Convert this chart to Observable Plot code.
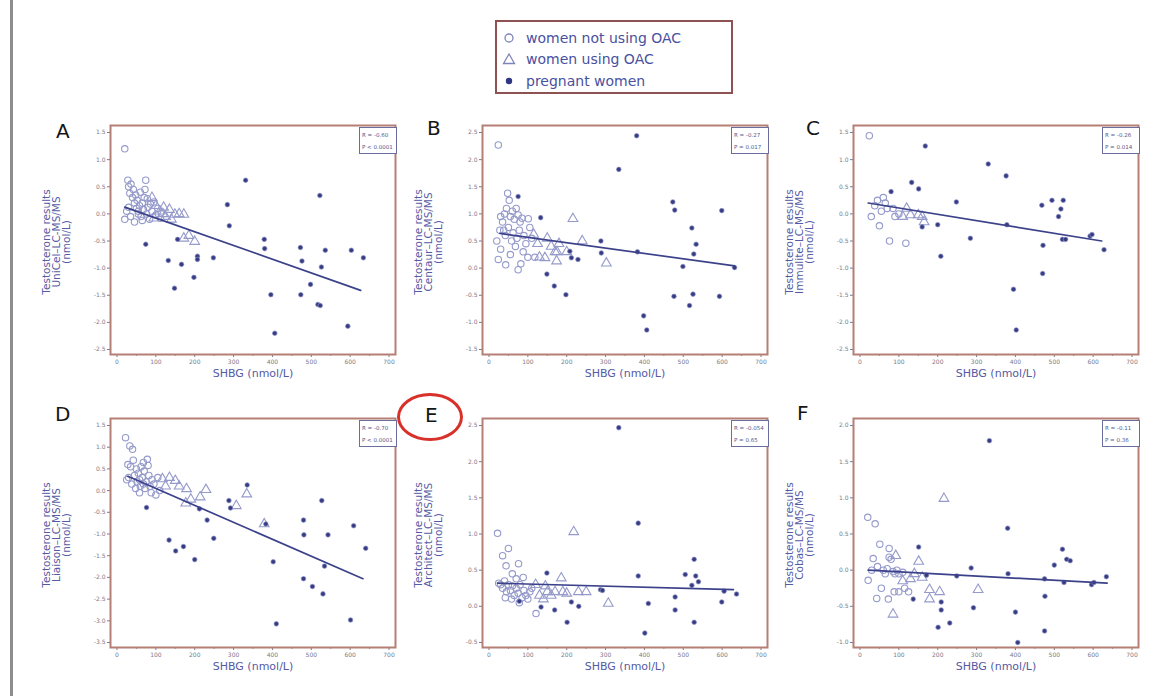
<!DOCTYPE html>
<html><head><meta charset="utf-8">
<script src="https://cdn.jsdelivr.net/npm/d3@7"></script>
<script src="https://cdn.jsdelivr.net/npm/@observablehq/plot@0.6"></script>
<style>
body{margin:0;background:#fff;}
#wrap{position:relative;width:1170px;height:696px;overflow:hidden;background:#fff;font-family:"DejaVu Sans",sans-serif;}
.abs{position:absolute;}
.letter{position:absolute;font-size:20px;line-height:20px;color:#151515;}
.stats{position:absolute;width:38px;height:27px;box-sizing:border-box;border:1px solid #6a6e9e;background:#fff;font-size:5.5px;line-height:11px;color:#555a8e;padding-left:2px;padding-top:1px;white-space:nowrap;}
.panel{position:absolute;}
#legend{position:absolute;left:495px;top:20px;width:238px;height:74px;box-sizing:border-box;border:2px solid #8e5252;}
.lrow{position:absolute;left:0;height:20px;display:flex;align-items:center;font-size:14px;color:#4a50a0;}
.lrow svg{margin-left:5px;margin-right:10px;}
</style></head><body><div id="wrap"></div>
<script>
// ---------------- data ----------------
const panelIds = ["A","B","C","D","E","F"];
const methods = ["UniCel","Centaur","Immulite","Liaison","Architect","Cobas"];
const xLabel = "SHBG (nmol/L)";
const xMajor = [0,100,200,300,400,500,600,700];
const xMinor = [50,150,250,350,450,550,650];
const legendLabels = ["women not using OAC","women using OAC","pregnant women"];

const yTicksA = [1.5,1.0,0.5,0.0,-0.5,-1.0,-1.5,-2.0,-2.5];
const yTicksB = [2.5,2.0,1.5,1.0,0.5,0.0,-0.5,-1.0,-1.5];
const yTicksC = [1.5,1.0,0.5,0.0,-0.5,-1.0,-1.5,-2.0,-2.5];
const yTicksD = [1.5,1.0,0.5,0.0,-0.5,-1.0,-1.5,-2.0,-2.5,-3.0,-3.5];
const yTicksE = [2.5,2.0,1.5,1.0,0.5,0.0,-0.5];
const yTicksF = [2.0,1.5,1.0,0.5,0.0,-0.5,-1.0];

const statsR = ["R = -0.60","R = -0.27","R = -0.26","R = -0.70","R = -0.054","R = -0.11"];
const statsP = ["P < 0.0001","P = 0.017","P = 0.014","P < 0.0001","P = 0.65","P = 0.36"];

// women not using OAC (circles)
const circA = [[20,1.2],[28,0.62],[30,0.5],[33,0.38],[36,0.55],[40,0.3],[42,0.45],[45,0.2],[48,0.35],[50,0.1],[52,0.25],[55,0.05],[58,0.15],[60,0.4],[62,-0.05],[65,0.2],[68,0.08],[70,0.3],[74,0.62],[76,0.0],[78,0.28],[80,0.12],[84,-0.1],[86,0.18],[90,0.05],[95,0.22],[100,-0.02],[105,0.1],[112,-0.08],[20,-0.1],[25,0.05],[30,0.12],[35,-0.05],[45,-0.15],[55,0.0],[65,-0.12],[72,0.45]];
const circB = [[24,2.27],[48,1.38],[52,1.25],[45,1.1],[30,0.95],[35,0.85],[40,1.0],[55,0.95],[60,1.05],[65,0.9],[70,1.1],[75,0.98],[80,0.85],[85,0.92],[38,0.7],[42,0.6],[50,0.75],[58,0.5],[62,0.65],[68,0.4],[72,0.55],[78,0.7],[88,0.3],[95,0.45],[100,0.2],[101,0.91],[24,0.16],[30,0.35],[43,0.06],[55,0.25],[75,-0.03],[82,0.08],[90,0.6],[105,0.75],[110,0.55],[118,0.2],[20,0.5],[28,0.7]];
const circC = [[24,1.44],[29,-0.05],[50,-0.22],[55,0.05],[60,0.3],[65,0.2],[70,0.1],[76,-0.5],[45,0.25],[38,0.15],[85,0.1],[90,-0.05],[118,-0.54],[100,0.0]];
const circD = [[22,1.22],[33,1.03],[40,0.95],[28,0.6],[35,0.55],[42,0.7],[45,0.35],[50,0.5],[52,0.2],[55,0.4],[58,0.25],[60,0.1],[62,0.55],[65,0.3],[68,0.15],[70,0.45],[72,0.05],[75,0.2],[78,0.72],[80,0.58],[82,0.35],[85,0.1],[88,-0.05],[90,0.25],[95,0.15],[100,-0.1],[105,0.3],[110,0.0],[30,0.3],[38,0.15],[48,0.05],[58,-0.05],[25,0.25],[68,0.65]];
const circE = [[22,1.01],[35,0.7],[50,0.8],[44,0.56],[76,0.59],[60,0.45],[30,0.3],[35,0.25],[40,0.35],[45,0.2],[50,0.3],[55,0.22],[60,0.28],[65,0.15],[70,0.25],[75,0.18],[80,0.3],[85,0.12],[90,0.22],[95,0.15],[100,0.1],[105,0.2],[110,0.25],[78,0.05],[121,-0.1],[25,0.32],[70,0.38],[88,0.4],[58,0.1],[42,0.12]];
const circF = [[20,0.73],[39,0.64],[51,0.36],[34,0.16],[21,-0.14],[43,-0.39],[75,0.3],[75,0.18],[80,0.15],[73,-0.4],[60,0.0],[65,-0.05],[70,0.02],[85,-0.02],[90,-0.05],[95,0.0],[100,-0.05],[110,-0.03],[115,-0.25],[125,-0.3],[88,-0.3],[55,-0.25],[45,0.05],[30,0.0],[100,-0.3]];

// women using OAC (triangles)
const triA = [[90,0.3],[100,0.15],[110,0.05],[118,0.0],[125,-0.05],[135,0.08],[149,-0.01],[160,0.0],[172,-0.01],[172,-0.45],[185,-0.4],[200,-0.51],[140,-0.1],[95,-0.08],[120,0.12]];
const triB = [[115,0.62],[125,0.45],[130,0.2],[144,0.19],[150,0.55],[160,0.4],[170,0.3],[174,0.13],[180,0.45],[216,0.91],[200,0.3],[240,0.5],[302,0.09],[175,0.3]];
const triC = [[110,-0.05],[130,-0.02],[150,-0.02],[165,-0.15],[120,0.1],[160,-0.05]];
const triD = [[117,0.27],[135,0.3],[150,0.23],[160,0.1],[179,0.04],[177,-0.29],[214,-0.15],[229,0.02],[190,-0.2],[307,-0.35],[334,-0.08],[379,-0.77],[125,0.1]];
const triE = [[130,0.15],[140,0.1],[150,0.2],[160,0.15],[170,0.2],[186,0.39],[190,0.2],[200,0.18],[218,1.03],[230,0.2],[250,0.2],[307,0.04],[120,0.3],[145,0.28]];
const triF = [[85,-0.61],[151,0.12],[179,-0.27],[179,-0.4],[205,-0.3],[216,0.99],[304,-0.27],[140,-0.05],[160,-0.1],[130,-0.12],[92,0.2],[110,-0.15]];

// pregnant women (filled dots)
const pregA = [[74,-0.56],[132,-0.86],[148,-1.37],[156,-0.47],[166,-0.93],[198,-1.17],[207,-0.78],[207,-0.84],[248,-0.81],[284,0.17],[289,-0.22],[331,0.62],[379,-0.47],[380,-0.64],[396,-1.49],[406,-2.2],[472,-0.62],[476,-0.87],[473,-1.49],[498,-1.3],[517,-1.67],[523,-1.69],[522,0.34],[526,-0.98],[536,-0.67],[594,-2.07],[603,-0.67],[634,-0.81]];
const pregB = [[75,1.32],[133,0.93],[149,-0.11],[168,-0.33],[198,-0.49],[208,0.31],[212,0.19],[229,0.16],[288,0.5],[289,0.28],[334,1.82],[380,2.44],[382,0.3],[398,-0.88],[406,-1.14],[473,1.22],[478,1.07],[476,-0.52],[499,0.03],[516,-0.69],[522,0.74],[525,-0.48],[527,0.26],[533,0.44],[593,-0.52],[599,1.06],[632,0.01]];
const pregC = [[80,0.41],[133,0.58],[151,0.46],[168,1.25],[160,-0.24],[200,-0.2],[208,-0.78],[248,0.22],[284,-0.45],[330,0.92],[376,0.7],[378,-0.2],[395,-1.39],[402,-2.14],[468,0.16],[471,-0.58],[470,-1.1],[494,0.25],[511,-0.05],[517,0.09],[523,0.25],[521,-0.47],[529,-0.47],[592,-0.41],[597,-0.38],[628,-0.66]];
const pregD = [[76,-0.39],[134,-1.14],[151,-1.39],[171,-1.29],[200,-1.59],[212,-0.42],[232,-0.68],[249,-1.1],[288,-0.23],[292,-0.4],[335,0.13],[383,-0.77],[402,-1.64],[410,-3.07],[480,-0.68],[481,-1.02],[480,-2.03],[503,-2.21],[527,-0.23],[530,-2.38],[534,-1.74],[543,-1.02],[601,-2.98],[609,-0.81],[640,-1.33]];
const pregE = [[78,0.07],[134,-0.01],[149,0.46],[169,-0.05],[201,-0.22],[212,0.06],[231,0.0],[287,0.23],[292,0.22],[334,2.47],[384,1.15],[384,0.42],[410,0.04],[401,-0.37],[479,0.13],[479,-0.05],[505,0.44],[522,0.29],[528,0.65],[528,-0.22],[532,0.42],[539,0.34],[599,0.06],[605,0.21],[637,0.17]];
const pregF = [[137,-0.4],[151,0.32],[171,-0.07],[201,-0.79],[209,-0.44],[209,-0.55],[231,-0.73],[249,-0.08],[286,0.03],[292,-0.52],[333,1.79],[380,0.58],[381,-0.05],[400,-0.58],[406,-1.0],[475,-0.12],[476,-0.36],[475,-0.84],[500,0.07],[521,0.29],[525,-0.17],[532,0.15],[541,0.13],[596,-0.2],[602,-0.17],[634,-0.09]];

// regression lines (SHBG, difference) end points
const fitA = [[20,0.125],[627,-1.41]];
const fitB = [[28,0.64],[632,0.04]];
const fitC = [[21,0.2],[622,-0.5]];
const fitD = [[28,0.33],[633,-2.03]];
const fitE = [[22,0.32],[629,0.23]];
const fitF = [[21,0.0],[636,-0.18]];

// ---------------- build ----------------
const panels = [
  {circ: circA, tri: triA, preg: pregA, fit: fitA, yTicks: yTicksA},
  {circ: circB, tri: triB, preg: pregB, fit: fitB, yTicks: yTicksB},
  {circ: circC, tri: triC, preg: pregC, fit: fitC, yTicks: yTicksC},
  {circ: circD, tri: triD, preg: pregD, fit: fitD, yTicks: yTicksD},
  {circ: circE, tri: triE, preg: pregE, fit: fitE, yTicks: yTicksE},
  {circ: circF, tri: triF, preg: pregF, fit: fitF, yTicks: yTicksF}
].map((p, i) => ({...p, id: panelIds[i], method: methods[i], r: statsR[i], p: statsP[i]}));

const wrap = document.getElementById("wrap");
const colLeft = [110, 482, 853];
const rowTop = [125, 418];
const FW = 285, FH = 229, ML = 80, MR = 6, MT = 10, MB = 40;
const letterPos = [[56,121],[427,118],[806,118],[55,404],[425,405],[797,403]];

const womenColor = "#959acb";
const pregColor = "#363c84";
const textBlue = "#555aa4";

panels.forEach((p, i) => {
  const col = i % 3, row = Math.floor(i / 3);
  const fl = colLeft[col], ft = rowTop[row];
  const lo = d3.min(p.yTicks), hi = d3.max(p.yTicks), span = hi - lo;
  const X = d => d[0], Y = d => d[1];
  const chart = Plot.plot({
    width: ML + FW + MR, height: MT + FH + MB,
    marginLeft: ML, marginRight: MR, marginTop: MT, marginBottom: MB,
    style: {background: "transparent", fontFamily: "DejaVu Sans, sans-serif", overflow: "visible"},
    x: {domain: [-16.7, 716.7]},
    y: {domain: [lo - span * 5 / 217, hi + span * 7 / 217]},
    marks: [
      Plot.axisX({ticks: xMinor, tickSize: 2, tickFormat: () => "", color: "#8a8cb0", label: null}),
      Plot.axisX({ticks: xMajor, tickSize: 3, tickPadding: 2, fontSize: 6, color: "#7a7a8a", label: null, tickFormat: d => String(d)}),
      Plot.axisY({ticks: p.yTicks, tickSize: 3, tickPadding: 2, fontSize: 6, color: "#7a7a8a", label: null, tickFormat: d => d.toFixed(1)}),
      Plot.frame({stroke: "#b57f75", strokeWidth: 2}),
      Plot.dot(p.circ, {x: X, y: Y, r: 3.2, stroke: womenColor, strokeWidth: 1.1, fill: "none"}),
      Plot.dot(p.tri, {x: X, y: Y, r: 3.6, symbol: "triangle", stroke: womenColor, strokeWidth: 1.1, fill: "none"}),
      Plot.dot(p.preg, {x: X, y: Y, r: 2.3, fill: pregColor, stroke: "#8d91c2", strokeWidth: 0.7}),
      Plot.line(p.fit, {x: X, y: Y, stroke: "#3c428a", strokeWidth: 1.7}),
      Plot.text([xLabel], {frameAnchor: "bottom", dy: 22, text: d => d, fontSize: 11, fill: textBlue}),
      Plot.text([`Testosterone results\n${p.method}\u2013LC-MS/MS\n(nmol/L)`], {frameAnchor: "left", textAnchor: "middle", lineAnchor: "middle", rotate: -90, dx: -54, dy: 2, text: d => d, fontSize: 10.5, lineHeight: 0.95, fill: textBlue})
    ]
  });
  chart.classList.add("panel");
  chart.style.left = (fl - ML) + "px";
  chart.style.top = (ft - MT) + "px";
  wrap.appendChild(chart);

  const st = document.createElement("div");
  st.className = "stats";
  st.style.left = (fl + FW + 2 - 38) + "px";
  st.style.top = (ft + 2) + "px";
  st.innerHTML = `<div style="line-height:12px">${p.r}</div><div style="line-height:12px">${p.p}</div>`;
  wrap.appendChild(st);

  const lt = document.createElement("div");
  lt.className = "letter";
  lt.textContent = p.id;
  lt.style.left = letterPos[i][0] + "px";
  lt.style.top = letterPos[i][1] + "px";
  wrap.appendChild(lt);
});

// red ellipse around E
const ring = document.createElement("div");
ring.className = "abs";
Object.assign(ring.style, {left: "397px", top: "393px", width: "66px", height: "48px", boxSizing: "border-box", border: "3.5px solid #d8312a", borderRadius: "50%"});
wrap.appendChild(ring);

// left gray rule
const rule = document.createElement("div");
rule.className = "abs";
Object.assign(rule.style, {left: "10px", top: "0px", width: "3px", height: "696px", background: "#8d8d8d"});
wrap.appendChild(rule);

// legend
const legend = document.createElement("div");
legend.id = "legend";
const symbols = [
  `<svg width="14" height="14"><circle cx="7" cy="7" r="4" fill="none" stroke="#7f84bb" stroke-width="1.3"/></svg>`,
  `<svg width="14" height="14"><path d="M7,2 L12.5,11.5 L1.5,11.5 Z" fill="none" stroke="#7f84bb" stroke-width="1.3"/></svg>`,
  `<svg width="14" height="14"><circle cx="7" cy="7" r="3.2" fill="#2f3684"/></svg>`
];
const rowY = [6, 27, 49];
legendLabels.forEach((lab, i) => {
  const r = document.createElement("div");
  r.className = "lrow";
  r.style.top = rowY[i] + "px";
  r.innerHTML = symbols[i] + `<span>${lab}</span>`;
  legend.appendChild(r);
});
wrap.appendChild(legend);
</script></body></html>
